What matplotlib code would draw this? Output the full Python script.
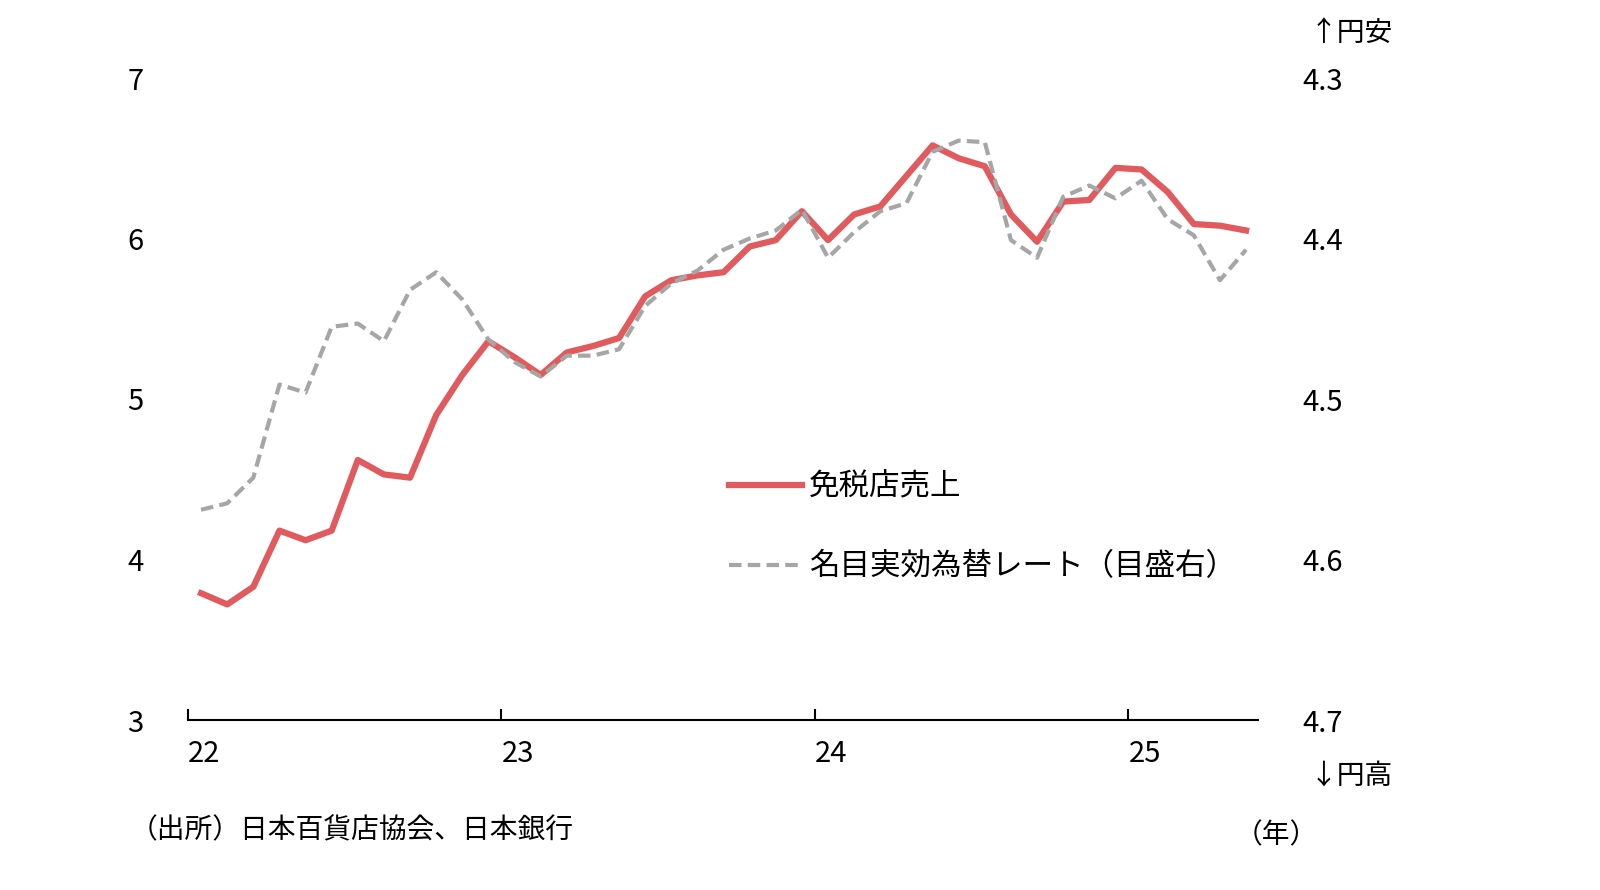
import matplotlib
matplotlib.use("Agg")
import matplotlib.pyplot as plt
import numpy as np

plt.rcParams['font.family'] = ['Noto Sans CJK JP', 'DejaVu Sans']

months = np.arange(41)  # Jan 2022 .. May 2025
sales = [3.79,3.72,3.83,4.18,4.12,4.18,4.62,4.53,4.51,4.90,5.15,5.36,5.26,5.15,5.29,5.33,5.38,5.64,5.74,5.77,
         5.79,5.95,5.99,6.17,5.99,6.15,6.20,6.39,6.58,6.50,6.45,6.15,5.98,6.23,6.24,6.44,6.43,6.29,6.09,6.08,6.05]
neer = [4.569,4.565,4.549,4.491,4.496,4.455,4.453,4.464,4.432,4.421,4.438,4.463,4.477,4.486,4.473,4.473,4.469,
        4.442,4.428,4.420,4.407,4.400,4.395,4.382,4.412,4.396,4.383,4.378,4.346,4.339,4.340,4.401,4.412,4.374,
        4.367,4.375,4.364,4.388,4.398,4.426,4.407]
year_labels = ['22', '23', '24', '25']

fig = plt.figure(figsize=(16, 8.9), dpi=100)
ax = fig.add_axes([188/1600, 1-720/890, (1258-188)/1600, (720-78)/890])
x = (months + 0.5) / 12.0
ax.plot(x, sales, color='#e05a5e', lw=4.5, zorder=3, label='免税店売上')
ax2 = ax.twinx()
ax2.plot(x, neer, color='#a6a6a6', lw=3, ls=(0, (3, 1.5)), zorder=2)
ax.plot([], [], color='#a6a6a6', lw=3, ls=(0, (3, 1.5)), label='名目実効為替レート（目盛右）')

ax.set_xlim(0, (1258-188)/313.5)
ax.set_ylim(3, 7)
ax2.set_ylim(4.7, 4.3)
ax.set_yticks([3, 4, 5, 6, 7])
ax2.set_yticks([4.3, 4.4, 4.5, 4.6, 4.7])
ax2.set_yticklabels(['4.3', '4.4', '4.5', '4.6', '4.7'])
ax.set_xticks([0, 1, 2, 3])
ax.set_xticklabels(year_labels)
for a in (ax, ax2):
    for s in ['top', 'left', 'right']:
        a.spines[s].set_visible(False)
ax2.spines['bottom'].set_visible(False)
ax.spines['bottom'].set_linewidth(1.5)
ax.tick_params(axis='y', length=0, pad=32, labelsize=21)
ax2.tick_params(axis='y', length=0, pad=32, labelsize=21)
ax.tick_params(axis='x', length=8, width=1.5, direction='in', labelsize=21, pad=14)
for lbl in ax.get_xticklabels():
    lbl.set_horizontalalignment('left')

leg = ax.legend(loc='upper left', bbox_to_anchor=(0.48, 0.43), frameon=False, fontsize=22,
                handlelength=2.4, labelspacing=1.6, handletextpad=0.2)

fig.text(1310/1600, 1-33/890, '↑円安', fontsize=20, va='center')
fig.text(1310/1600, 1-776/890, '↓円高', fontsize=20, va='center')
fig.text(130/1600, 1-830/890, '（出所）日本百貨店協会、日本銀行', fontsize=20, va='center')
fig.text(1235/1600, 1-835/890, '（年）', fontsize=20, va='center')

fig.savefig('out.png', dpi=100)
